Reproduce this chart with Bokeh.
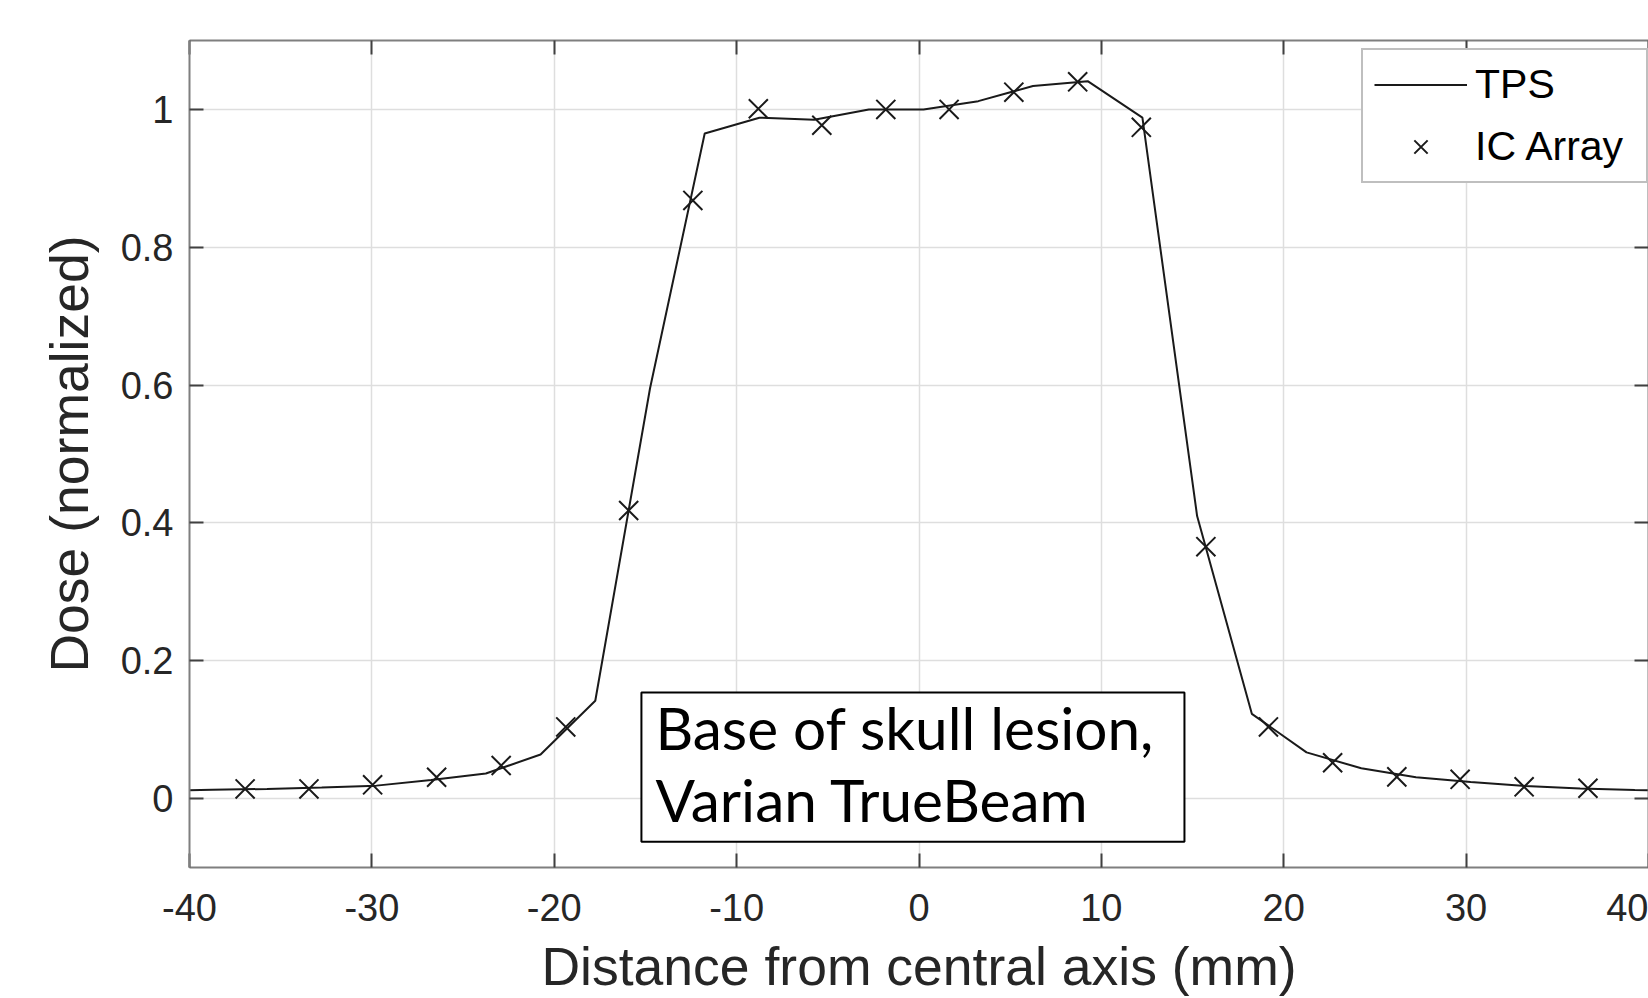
from bokeh.plotting import figure
from bokeh.models import FixedTicker, LinearAxis, Legend, LegendItem, Label, Range1d
from bokeh.embed import file_html
from bokeh.resources import INLINE

# TPS profile (mm, normalized dose)
tps_x = [-41.75, -38.75, -35.75, -32.75, -29.75, -26.75, -23.75, -20.75, -17.75,
         -14.75, -11.75, -8.75, -5.75, -2.75, 0.25, 3.25, 6.25, 9.25, 12.25,
         15.25, 18.25, 21.25, 24.25, 27.25, 30.25, 33.25, 36.25, 39.25, 42.25]
tps_y = [0.011, 0.0128, 0.014, 0.016, 0.0188, 0.027, 0.0363, 0.064, 0.142,
         0.595, 0.965, 0.988, 0.985, 1.0, 1.0, 1.012, 1.034, 1.041, 0.988,
         0.41, 0.123, 0.067, 0.044, 0.031, 0.024, 0.0184, 0.0145, 0.0125, 0.011]

# IC Array measurements
ic_x = [-36.95, -33.45, -29.96, -26.45, -22.91, -19.37, -15.92, -12.4, -8.81,
        -5.33, -1.82, 1.65, 5.2, 8.7, 12.19, 15.73, 19.16, 22.68, 26.2, 29.67,
        33.18, 36.68]
ic_y = [0.014, 0.014, 0.020, 0.031, 0.048, 0.104, 0.418, 0.868, 1.001,
        0.977, 1.0, 1.0, 1.025, 1.040, 0.974, 0.3655, 0.104, 0.052, 0.0315,
        0.028, 0.017, 0.015]

x_ticks = [-40, -30, -20, -10, 0, 10, 20, 30, 40]
x_tick_labels = ["-40", "-30", "-20", "-10", "0", "10", "20", "30", "40"]
y_ticks = [0, 0.2, 0.4, 0.6, 0.8, 1]
y_tick_labels = ["0", "0.2", "0.4", "0.6", "0.8", "1"]

AX_COLOR = "#7f7f7f"
TICK_COLOR = "#404040"
TXT_COLOR = "#262626"
FONT = "Liberation Sans"

p = figure(width=1648, height=998,
           x_range=Range1d(-40, 40), y_range=Range1d(-0.1, 1.1),
           output_backend="svg", toolbar_location=None,
           min_border_left=189, min_border_right=0,
           min_border_top=40, min_border_bottom=131,
           x_axis_label="Distance from central axis (mm)",
           y_axis_label="Dose (normalized)")
p.outline_line_color = None
p.background_fill_color = "white"
p.border_fill_color = "white"


def style_axis(ax, ticks, labels=None):
    ax.ticker = FixedTicker(ticks=ticks)
    ax.axis_line_color = AX_COLOR
    ax.axis_line_width = 2
    ax.major_tick_in = 14
    ax.major_tick_out = 0
    ax.major_tick_line_color = TICK_COLOR
    ax.major_tick_line_width = 2
    ax.minor_tick_line_color = None
    ax.major_label_text_font = FONT
    if labels is not None:
        ax.major_label_overrides = dict(zip(ticks, labels))
        ax.major_label_text_font_size = "38px"
        ax.major_label_text_color = TXT_COLOR
    else:
        ax.major_label_text_font_size = "1px"
        ax.major_label_text_color = None
        ax.major_label_standoff = 0


style_axis(p.xaxis[0], x_ticks, x_tick_labels)
style_axis(p.yaxis[0], y_ticks, y_tick_labels)
p.xaxis[0].major_label_standoff = 26
p.yaxis[0].major_label_standoff = 16
for ax in (p.xaxis[0], p.yaxis[0]):
    ax.axis_label_text_font = FONT
    ax.axis_label_text_font_size = "53.5px"
    ax.axis_label_text_font_style = "normal"
    ax.axis_label_text_color = TXT_COLOR
p.xaxis[0].axis_label_standoff = 13
p.yaxis[0].axis_label_standoff = 19

top_ax = LinearAxis()
style_axis(top_ax, x_ticks)
p.add_layout(top_ax, "above")
right_ax = LinearAxis()
style_axis(right_ax, y_ticks)
p.add_layout(right_ax, "right")

p.xgrid.ticker = FixedTicker(ticks=x_ticks)
p.ygrid.ticker = FixedTicker(ticks=y_ticks)
for g in (p.xgrid[0], p.ygrid[0]):
    g.grid_line_color = "#dedede"
    g.grid_line_width = 1.5

r_line = p.line(tps_x, tps_y, line_color="#1a1a1a", line_width=2)
r_mark = p.scatter(ic_x, ic_y, marker="x", size=27,
                   line_color="#1a1a1a", line_width=2)

legend = Legend(items=[LegendItem(label="TPS", renderers=[r_line]),
                       LegendItem(label="IC Array", renderers=[r_mark])],
                location=(1172, 684),
                padding=11, spacing=15,
                glyph_width=93, glyph_height=47, label_height=47,
                label_width=160, label_standoff=8,
                label_text_font=FONT, label_text_font_size="41px",
                label_text_color="black",
                border_line_color=AX_COLOR, border_line_width=2,
                background_fill_color="white", background_fill_alpha=1.0)
p.add_layout(legend)

note = Label(x=-15.22, y=-0.0628, x_units="data", y_units="data",
             text="Base of skull lesion,\nVarian TrueBeam",
             text_font="Lato", text_font_size="58.5px", text_color="black",
             text_line_height=1.02, text_align="left", text_baseline="bottom",
             border_line_color="black", border_line_width=2,
             background_fill_color="white",
             padding=dict(left=14, right=30, top=0, bottom=8))
p.add_layout(note)

open("out.html", "w").write(file_html(p, INLINE))
